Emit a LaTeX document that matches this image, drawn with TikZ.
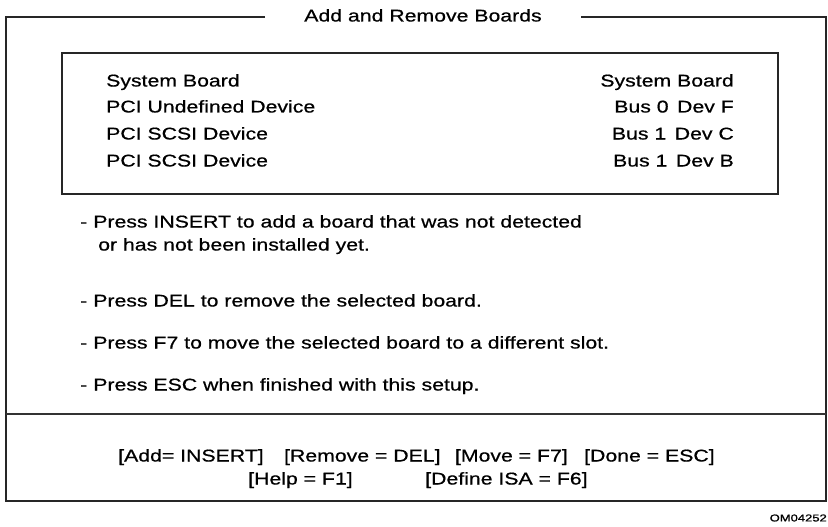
\documentclass[tikz,border=0pt]{standalone}
\usepackage{fontspec}
\setmainfont[FakeStretch=1.25,FakeBold=0.6]{Liberation Sans}
\newfontfamily\idfont[FakeStretch=1.3,FakeBold=1]{Liberation Sans}
\begin{document}
\begin{tikzpicture}[x=1pt,y=-1pt,
  txt/.style={font=\fontsize{17}{20}\selectfont, inner sep=0pt, text=black, text height=12pt, text depth=3pt},
  lt/.style={txt, anchor=west},
  rt/.style={txt, anchor=east},
  frame/.style={line width=1.8pt, draw=black!85},
  sepline/.style={line width=1.4pt, draw=black!80},
  listbox/.style={draw=black!85, line width=2.4pt, minimum width=716pt, minimum height=141pt, inner sep=0pt}]
\useasboundingbox (0,0) rectangle (828,527);
\fill[white] (0,0) rectangle (828,527);
% outer frame
\node[txt] (title) at (423,17) {Add and Remove Boards};
\coordinate (gapL) at (265,17);
\coordinate (gapR) at (581,17);
\coordinate (tl) at (6,17);
\coordinate (tr) at (826,17);
\coordinate (bl) at (6,501);
\coordinate (br) at (826,501);
\draw[frame] (gapL) -- (tl) -- (bl) -- (br) -- (tr) -- (gapR);
\coordinate (sepL) at (6,414);
\coordinate (sepR) at (826,414);
\draw[sepline] (sepL) -- (sepR);
% list box
\node[listbox] (list) at (420,123.5) {};
\node[lt] (l1) at (106,82) {System Board};
\node[lt] (l2) at (106,108) {PCI Undefined Device};
\node[lt] (l3) at (106,135) {PCI SCSI Device};
\node[lt] (l4) at (106,162) {PCI SCSI Device};
\node[rt] (r1) at (734,82) {System Board};
\node[rt] (r2) at (734,108) {Bus 0\enspace Dev F};
\node[rt] (r3) at (734,135) {Bus 1\enspace Dev C};
\node[rt] (r4) at (734,162) {Bus 1\enspace Dev B};
% instructions
\node[lt] (b1) at (80,223) {-\hspace{6pt}Press INSERT to add a board that was not detected};
\node[lt] (b1b) at (98,246) {or has not been installed yet.};
\node[lt] (b2) at (80,302) {-\hspace{6pt}Press DEL to remove the selected board.};
\node[lt] (b3) at (80,344) {-\hspace{6pt}Press F7 to move the selected board to a different slot.};
\node[lt] (b4) at (80,386) {-\hspace{6pt}Press ESC when finished with this setup.};
% keys
\node[lt] (k1) at (118,457) {[Add= INSERT]};
\node[lt] (k2) at ([xshift=20pt]k1.east) {[Remove = DEL]};
\node[lt] (k3) at ([xshift=14pt]k2.east) {[Move = F7]};
\node[lt] (k4) at ([xshift=16pt]k3.east) {[Done = ESC]};
\node[lt] (k5) at (248,480) {[Help = F1]};
\node[lt] (k6) at (425,480) {[Define ISA = F6]};
% figure id
\node[font=\idfont\fontsize{10}{12}\selectfont, inner sep=0pt, anchor=east] (fid) at (827,518) {OM04252};
\end{tikzpicture}
\end{document}
